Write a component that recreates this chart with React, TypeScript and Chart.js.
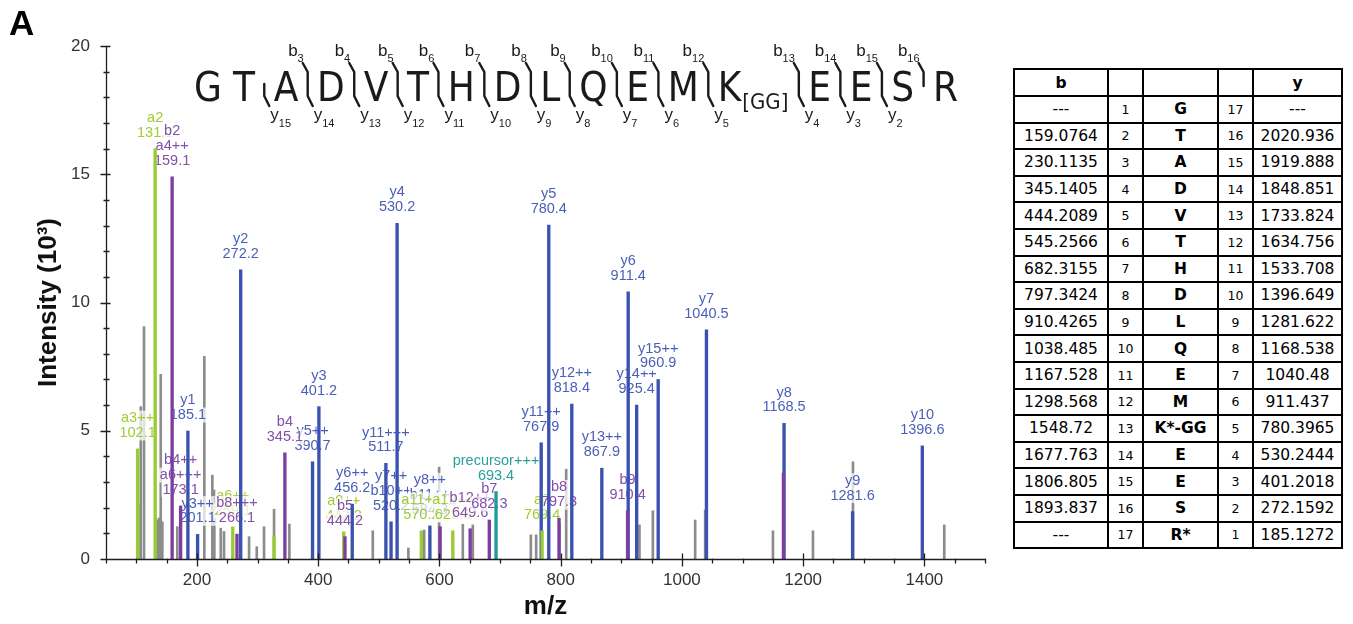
import React, { useEffect, useRef } from "react";
import { Chart, registerables } from "chart.js";

Chart.register(...registerables);

// ---------------- spectrum data ----------------
// unannotated peaks (m/z, intensity x10^3)
const otherMz = [103.3, 107.3, 112.7, 132.0, 134.7, 137.5, 140.3, 142.9, 167.7, 212.2, 225.4, 228.7, 239.3, 244.7, 286.0, 298.7, 310.7, 327.2, 352.5, 490.1, 548.8, 574.8, 599.5, 638.6, 655.1, 750.8, 759.6, 798.0, 809.1, 930.0, 952.1, 1021.9, 1038.4, 1150.2, 1216.2, 1282.2, 1432.8];
const otherIntensity = [2.14, 5.94, 9.06, 1.6, 1.52, 1.6, 7.2, 1.45, 1.26, 7.9, 3.27, 2.69, 1.2, 1.07, 0.87, 0.48, 1.26, 1.94, 1.36, 1.1, 0.43, 1.13, 3.58, 1.35, 1.33, 0.94, 0.94, 1.39, 3.5, 1.33, 1.88, 1.52, 1.91, 1.1, 1.1, 3.79, 1.33];

// a ions (green)
const aIonMz = [102.1, 131.1, 259.1, 327.2, 442.2, 570.2, 622.1, 769.4];
const aIonIntensity = [4.29, 16.0, 1.25, 0.9, 1.06, 1.1, 1.1, 1.1];
const aIonLabels = ["a3++\n102.1", "a2\n131.1", "a6++\n259.1", "", "a9++\n442.2", "a11++\n570.2", "a12++\n622.8", "a8\n769.4"];

// b ions (purple)
const bIonMz = [159.1, 173.1, 266.1, 345.1, 444.2, 601.2, 650.7, 682.3, 797.3, 910.4, 1167.5];
const bIonIntensity = [14.9, 2.07, 0.97, 4.14, 0.87, 1.26, 1.18, 1.52, 1.59, 1.88, 3.35];
const bIonLabels = ["b2\na4++\n159.1", "b4++\na6+++\n173.1", "b8+++\n266.1", "b4\n345.1", "b5\n444.2", "", "b12++\n649.6", "b7\n682.3", "b8\n797.3", "b9\n910.4", ""];

// y ions (blue)
const yIonMz = [185.1, 201.1, 272.2, 390.7, 401.2, 456.2, 511.7, 520.2, 530.2, 584.3, 767.9, 780.4, 818.4, 867.9, 911.4, 925.4, 960.9, 1040.5, 1168.5, 1281.6, 1396.6];
const yIonIntensity = [4.99, 0.96, 11.27, 3.79, 5.94, 2.14, 3.73, 1.45, 13.09, 1.29, 4.53, 13.02, 6.04, 3.54, 10.42, 6.0, 7.0, 8.93, 5.29, 1.85, 4.41];
const yIonLabels = ["y1\n185.1", "y3++\n201.1", "y2\n272.2", "y5++\n390.7", "y3\n401.2", "y6++\n456.2", "y11+++\n511.7", "y7++\nb10++\n520.2", "y4\n530.2", "y8++\nb11++\n584.3", "y11++\n767.9", "y5\n780.4", "y12++\n818.4", "y13++\n867.9", "y6\n911.4", "y14++\n925.4", "y15++\n960.9", "y7\n1040.5", "y8\n1168.5", "y9\n1281.6", "y10\n1396.6"];

// precursor (teal)
const precursorMz = [693.4];
const precursorIntensity = [2.63];
const precursorLabels = ["precursor+++\n693.4"];

// ---------------- axes ----------------
const xMin = 50;
const xMax = 1500;
const xStep = 50;
const xLabelStep = 200;
const yMin = 0;
const yMax = 20;
const yStep = 1;
const yLabelStep = 5;

// ---------------- peptide sequence ----------------
const sequence = ["G", "T", "A", "D", "V", "T", "H", "D", "L", "Q", "E", "M", "K", "E", "E", "S", "R"];
const modifiedPosition = 13;
const modificationText = "[GG]";
const bFragments = [3, 4, 5, 6, 7, 8, 9, 10, 11, 12, 13, 14, 15, 16];
const yFragments = [2, 3, 4, 5, 6, 7, 8, 9, 10, 11, 12, 13, 14, 15];

// ---------------- fragment table ----------------
const tableB = ["---", "159.0764", "230.1135", "345.1405", "444.2089", "545.2566", "682.3155", "797.3424", "910.4265", "1038.485", "1167.528", "1298.568", "1548.72", "1677.763", "1806.805", "1893.837", "---"];
const tableResidues = ["G", "T", "A", "D", "V", "T", "H", "D", "L", "Q", "E", "M", "K*-GG", "E", "E", "S", "R*"];
const tableY = ["---", "2020.936", "1919.888", "1848.851", "1733.824", "1634.756", "1533.708", "1396.649", "1281.622", "1168.538", "1040.48", "911.437", "780.3965", "530.2444", "401.2018", "272.1592", "185.1272"];

// ---------------- styles ----------------
const GRAY = "#8c8c8c";
const GREEN = "#99cc33";
const PURPLE = "#7d3f9f";
const BLUE = "#3b52b0";
const TEAL = "#1f9a97";
const SANS = '"Liberation Sans", Arial, sans-serif';
const LABEL_FONT = '14.5px "Liberation Sans", Arial, sans-serif';

const ionSeries = [
  { mz: precursorMz, intensity: precursorIntensity, labels: precursorLabels, color: TEAL, labelColor: "#2a9e9b" },
  { mz: yIonMz, intensity: yIonIntensity, labels: yIonLabels, color: BLUE, labelColor: "#4a5fb8" },
  { mz: aIonMz, intensity: aIonIntensity, labels: aIonLabels, color: GREEN, labelColor: "#9fcc35" },
  { mz: bIonMz, intensity: bIonIntensity, labels: bIonLabels, color: PURPLE, labelColor: "#8550a8" },
];

function drawPeakLabels(chart: any) {
  const { ctx, scales } = chart;
  const xs = scales.x;
  const ys = scales.y;
  ctx.save();
  ctx.font = LABEL_FONT;
  ctx.textAlign = "center";
  ctx.textBaseline = "middle";
  for (const s of ionSeries) {
    s.mz.forEach((m: number, i: number) => {
      const text = s.labels[i];
      if (!text) return;
      const lines = text.split("\n");
      const px = xs.getPixelForValue(m);
      const py = ys.getPixelForValue(s.intensity[i]);
      lines.forEach((ln: string, j: number) => {
        const cy = py - 16 - (lines.length - 1 - j) * 14.8;
        const w = ctx.measureText(ln).width;
        ctx.fillStyle = "rgba(255,255,255,0.72)";
        ctx.fillRect(px - w / 2 - 1, cy - 7.5, w + 2, 15);
        ctx.fillStyle = s.labelColor;
        ctx.fillText(ln, px, cy);
      });
    });
  }
  ctx.restore();
}

function drawAxes(chart: any) {
  const { ctx, chartArea: ca, scales } = chart;
  const xs = scales.x;
  const ys = scales.y;
  ctx.save();
  ctx.strokeStyle = "#1e1e1e";
  ctx.lineWidth = 1.3;
  ctx.beginPath();
  const x0 = Math.round(ca.left) + 0.5;
  const y0 = Math.round(ca.bottom) + 0.5;
  ctx.moveTo(x0, ys.getPixelForValue(yMax));
  ctx.lineTo(x0, y0);
  ctx.moveTo(x0 - 6, y0);
  ctx.lineTo(xs.getPixelForValue(xMax) + 1, y0);
  for (let v = yMin; v <= yMax; v += yStep) {
    const py = Math.round(ys.getPixelForValue(v)) + 0.5;
    const major = v % yLabelStep === 0;
    ctx.moveTo(x0 - (major ? 6 : 3), py);
    ctx.lineTo(x0 + (major ? 4 : 3), py);
  }
  for (let v = xMin; v <= xMax; v += xStep) {
    const px = Math.round(xs.getPixelForValue(v)) + 0.5;
    const major = v % xLabelStep === 0;
    ctx.moveTo(px, y0 - (major ? 6 : 1));
    ctx.lineTo(px, y0 + (major ? 7 : 4));
  }
  ctx.stroke();
  ctx.restore();
}

function drawSequence(chart: any) {
  const ctx = chart.ctx;
  const big = '40px "Liberation Sans Narrow", "DejaVu Sans Condensed", "Liberation Sans", sans-serif';
  const mod = '22px "Liberation Sans Narrow", "DejaVu Sans Condensed", "Liberation Sans", sans-serif';
  const seqLeft = 194;
  const seqRight = 958;
  const baseline = 101;
  ctx.save();
  ctx.font = big;
  const widths = sequence.map((r) => ctx.measureText(r).width);
  ctx.font = mod;
  const modW = ctx.measureText(modificationText).width;
  const n = sequence.length;
  const hasB = (i: number) => bFragments.includes(i);
  const hasY = (i: number) => yFragments.includes(n - i);
  let markerGaps = 0;
  for (let i = 1; i < n; i++) if (hasB(i) || hasY(i)) markerGaps++;
  const plainGap = 11;
  const total = widths.reduce((a, b) => a + b, 0) + modW + 2;
  const g = (seqRight - seqLeft - total - plainGap * (n - 1 - markerGaps)) / markerGaps;
  let cx = seqLeft;
  const gapX: number[] = [];
  ctx.fillStyle = "#1a1a1a";
  ctx.textAlign = "left";
  ctx.textBaseline = "alphabetic";
  sequence.forEach((r, i) => {
    ctx.font = big;
    ctx.fillText(r, cx, baseline);
    cx += widths[i];
    if (i + 1 === modifiedPosition) {
      ctx.font = mod;
      ctx.fillText(modificationText, cx + 1, baseline + 8);
      cx += modW + 2;
    }
    if (i < n - 1) {
      const gi = i + 1;
      const gw = hasB(gi) || hasY(gi) ? g : plainGap;
      gapX.push(cx + gw / 2);
      cx += gw;
    }
  });
  // markers
  ctx.strokeStyle = "#1a1a1a";
  ctx.lineWidth = 2.4;
  ctx.lineCap = "round";
  ctx.lineJoin = "round";
  for (let i = 1; i < n; i++) {
    const b = hasB(i);
    const y = hasY(i);
    if (!b && !y) continue;
    const gx = gapX[i - 1];
    ctx.beginPath();
    if (b) {
      ctx.moveTo(gx - 5, 63);
      ctx.lineTo(gx, 72);
    } else {
      ctx.moveTo(gx, 84);
    }
    ctx.lineTo(gx, y ? 96 : 86);
    if (y) ctx.lineTo(gx + 5, 106);
    ctx.stroke();
    if (b) {
      ctx.font = '17px "Liberation Sans", Arial, sans-serif';
      const wb = ctx.measureText("b").width;
      ctx.font = '11px "Liberation Sans", Arial, sans-serif';
      const sub = String(i);
      const ws = ctx.measureText(sub).width;
      const lx = gx - 4 - wb - ws;
      ctx.font = '17px "Liberation Sans", Arial, sans-serif';
      ctx.fillText("b", lx, 56);
      ctx.font = '11px "Liberation Sans", Arial, sans-serif';
      ctx.fillText(sub, lx + wb, 62);
    }
    if (y) {
      ctx.font = '17px "Liberation Sans", Arial, sans-serif';
      const wy = ctx.measureText("y").width;
      const lx = gx + 6;
      ctx.fillText("y", lx, 120);
      ctx.font = '11px "Liberation Sans", Arial, sans-serif';
      ctx.fillText(String(n - i), lx + wy, 127);
    }
  }
  ctx.restore();
}

const overlayPlugin = {
  id: "spectrumOverlay",
  afterDatasetDraw(chart: any, args: any) {
    if (args.index === 0) drawPeakLabels(chart);
  },
  afterDraw(chart: any) {
    drawAxes(chart);
    drawSequence(chart);
  },
};

const toPoints = (mz: number[], intensity: number[]) => mz.map((x, i) => ({ x, y: intensity[i] }));

function SpectrumChart() {
  const ref = useRef<HTMLCanvasElement | null>(null);
  useEffect(() => {
    if (!ref.current) return;
    const tickFont = { family: '"Liberation Sans", Arial, sans-serif', size: 17 };
    const chart = new Chart(ref.current, {
      type: "bar",
      data: {
        datasets: [
          { label: "other", data: toPoints(otherMz, otherIntensity), backgroundColor: GRAY, barThickness: 2, grouped: false, order: 5 } as any,
          { label: "precursor", data: toPoints(precursorMz, precursorIntensity), backgroundColor: TEAL, barThickness: 2.7, grouped: false, order: 4 } as any,
          { label: "y", data: toPoints(yIonMz, yIonIntensity), backgroundColor: BLUE, barThickness: 2.7, grouped: false, order: 3 } as any,
          { label: "a", data: toPoints(aIonMz, aIonIntensity), backgroundColor: GREEN, barThickness: 2.7, grouped: false, order: 2 } as any,
          { label: "b", data: toPoints(bIonMz, bIonIntensity), backgroundColor: PURPLE, barThickness: 2.7, grouped: false, order: 1 } as any,
        ],
      },
      options: {
        animation: false,
        responsive: false,
        maintainAspectRatio: false,
        events: [],
        layout: { padding: { top: 46, right: 15, left: 0, bottom: 0 } },
        plugins: { legend: { display: false }, tooltip: { enabled: false } },
        scales: {
          x: {
            type: "linear",
            min: xMin,
            max: xMax,
            offset: false,
            grid: { display: false, drawTicks: false },
            border: { display: false },
            ticks: {
              stepSize: xStep,
              autoSkip: false,
              maxRotation: 0,
              padding: 11,
              color: "#333",
              font: tickFont,
              callback: (v: any) => (Number(v) % xLabelStep === 0 ? String(v) : ""),
            },
            title: { display: true, text: "m/z", color: "#111", font: { family: '"Liberation Sans", Arial, sans-serif', size: 26, weight: "bold" }, padding: { top: 0, bottom: 2 } },
            afterFit: (s: any) => {
              s.height = 65;
            },
          },
          y: {
            type: "linear",
            min: yMin,
            max: yMax,
            grid: { display: false, drawTicks: false },
            border: { display: false },
            ticks: {
              stepSize: yStep,
              autoSkip: false,
              padding: 16,
              color: "#333",
              font: tickFont,
              callback: (v: any) => (Number(v) % yLabelStep === 0 ? String(v) : ""),
            },
            title: { display: true, text: "Intensity (10³)", color: "#111", font: { family: '"Liberation Sans", Arial, sans-serif', size: 26, weight: "bold" }, padding: { top: 33, bottom: 0 } },
            afterFit: (s: any) => {
              s.width = 106;
            },
          },
        },
      } as any,
      plugins: [overlayPlugin],
    });
    return () => chart.destroy();
  }, []);
  return <canvas ref={ref} width={1000} height={624} style={{ position: "absolute", left: 0, top: 0, width: 1000, height: 624 }} />;
}

function FragmentTable() {
  const cell: React.CSSProperties = { border: "1px solid #000", padding: 0, textAlign: "center", verticalAlign: "middle" };
  const rowH = 26.6;
  return (
    <table
      style={{
        position: "absolute",
        left: 1013,
        top: 68,
        width: 328,
        borderCollapse: "separate",
        borderSpacing: 0,
        border: "1px solid #000",
        fontFamily: '"DejaVu Sans", Verdana, sans-serif',
        fontSize: 15.5,
        color: "#000",
        tableLayout: "fixed",
      }}
    >
      <colgroup>
        <col style={{ width: 94 }} />
        <col style={{ width: 35 }} />
        <col style={{ width: 75 }} />
        <col style={{ width: 35 }} />
        <col style={{ width: 89 }} />
      </colgroup>
      <tbody>
        <tr style={{ height: 27 }}>
          <td style={{ ...cell, fontWeight: "bold" }}>b</td>
          <td style={cell}></td>
          <td style={cell}></td>
          <td style={cell}></td>
          <td style={{ ...cell, fontWeight: "bold" }}>y</td>
        </tr>
        {tableResidues.map((r, i) => (
          <tr key={i} style={{ height: rowH }}>
            <td style={cell}>{tableB[i]}</td>
            <td style={{ ...cell, fontSize: 12.5 }}>{i + 1}</td>
            <td style={{ ...cell, fontWeight: "bold" }}>{r}</td>
            <td style={{ ...cell, fontSize: 12.5 }}>{tableResidues.length - i}</td>
            <td style={cell}>{tableY[i]}</td>
          </tr>
        ))}
      </tbody>
    </table>
  );
}

export default function App() {
  return (
    <div style={{ position: "absolute", left: 0, top: 0, width: 1353, height: 624, background: "#fff", overflow: "hidden" }}>
      <SpectrumChart />
      <div style={{ position: "absolute", left: 9, top: 5, fontFamily: SANS, fontWeight: "bold", fontSize: 35, lineHeight: "35px", color: "#000" }}>A</div>
      <FragmentTable />
    </div>
  );
}
